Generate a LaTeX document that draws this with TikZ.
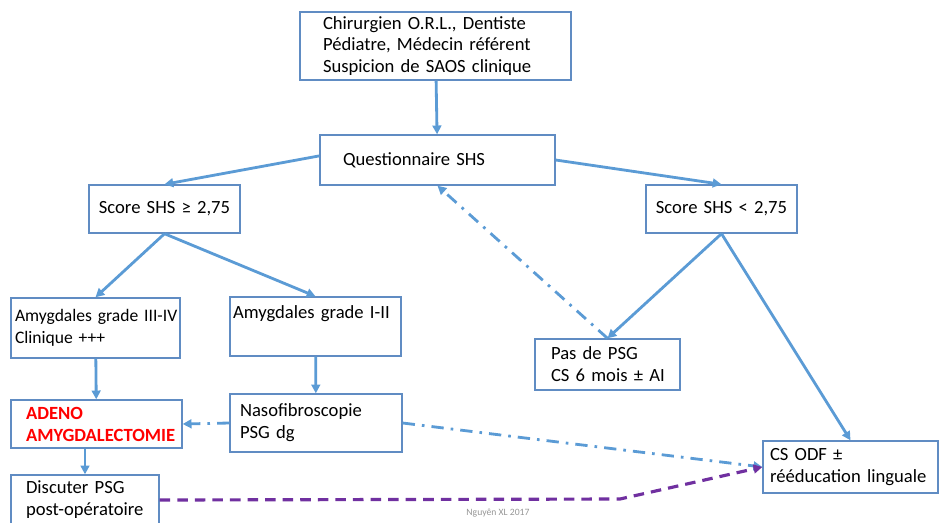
\documentclass[tikz,border=0pt]{standalone}
\usepackage{fontspec}
\setmainfont{Carlito}
\usetikzlibrary{arrows.meta}

\definecolor{arrowblue}{RGB}{91,155,213}
\definecolor{boxblue}{RGB}{96,140,195}
\definecolor{odfpurple}{RGB}{112,48,160}
\definecolor{footgray}{RGB}{150,150,150}

\begin{document}
\begin{tikzpicture}[x=0.02cm, y=-0.02cm,
			every node/.style={rectangle, draw=boxblue, line width=0.8pt, align=left, font=\fontsize{10.6}{12.5}\selectfont, inner ysep=0pt},
			every edge/.style={draw=arrowblue, line width=1.6pt},
			arr/.style={-{Triangle[length=5pt, width=5pt]}},
			dashdot/.style={arr, dash pattern=on 7pt off 4pt on 1.5pt off 4pt},
			purpledash/.style={draw=odfpurple, line width=1.8pt, dash pattern=on 6pt off 4pt, -{Triangle[length=5pt, width=5pt]}}]
			\useasboundingbox (0,0) rectangle (939,522);
			
			\node[inner xsep=0.46cm, text width=4.5cm, minimum height=1.36cm] (sus) at (435.5,46){Chirurgien O.R.L., Dentiste\\Pédiatre, Médecin référent\\Suspicion de SAOS clinique};
			\node[inner xsep=0.46cm, text width=3.78cm, minimum height=1cm] (quest) at (437.5,160){Questionnaire SHS};
			
			\node[inner xsep=0.1cm, text width=2.82cm, align=center, minimum height=0.96cm] (sge) at (164.5,209){Score SHS ≥ 2,75};
			\node[inner xsep=0.1cm, text width=2.82cm, align=center, minimum height=0.96cm] (sl) at (721.5,209){Score SHS < 2,75};
			
			\node[inner xsep=0.08cm, text width=3.22cm, minimum height=1.2cm, font=\fontsize{10}{12.5}\selectfont] (a34) at (95.5,328){\mbox{Amygdales grade III-IV}\\Clinique +++};
			\node[inner xsep=0.06cm, text width=3.3cm, minimum height=1.18cm] (a12) at (315.5,326.5){Amygdales grade I-II\\\strut};
			
			\node[inner xsep=0.3cm, text width=2.82cm, minimum height=0.96cm, text=red, font=\fontsize{10.6}{12.5}\selectfont\bfseries] (aden) at (96.5,424){ADENO\\AMYGDALECTOMIE};
			\node[inner xsep=0.2cm, text width=3.04cm, minimum height=1.16cm] (naso) at (316,423){Nasofibroscopie\\PSG dg};
			\node[inner xsep=0.3cm, text width=2.36cm, minimum height=1cm] (disc) at (85,500){Discuter PSG\\\mbox{post-opératoire}};
			
			\node[inner xsep=0.32cm, text width=2.26cm, minimum height=1.02cm] (pas) at (607.5,364.5){Pas de PSG\\\mbox{CS 6 mois ± AI}};
			\node[inner xsep=0.14cm, text width=3.22cm, minimum height=1.04cm] (odf) at (850.5,467){CS ODF ±\\rééducation linguale};
			
			\node[draw=none, text=footgray, font=\fontsize{5.5}{6}\selectfont] (foot) at (498,513){Nguyên XL 2017};
			
			\coordinate (bend) at (620,499);
			
			\path[arr] (sus) edge (quest);
			\path[arr] (quest.178) edge (sge.north);
			\path[arr] (quest.east) edge (sl.north);
			\path[arr] (sge.south) edge (a34.north);
			\path[arr] (sge.south) edge (a12.north);
			\path[arr] (sl.south) edge (pas.north);
			\path[arr] (sl.south) edge (odf.north);
			\path[arr] (a34) edge (aden);
			\path[arr] (a12) edge (naso);
			\path[arr] (aden.south -| disc.north) edge (disc.north);
			
			\path[dashdot] (naso.west) edge (aden.east);
			\path[dashdot] (naso.east) edge (odf.west);
			\path[dashdot] (pas.north) edge (quest.south);
			\draw[purpledash] (disc.east) -- (bend) -- (odf.west);
			\end{tikzpicture}
\end{document}
